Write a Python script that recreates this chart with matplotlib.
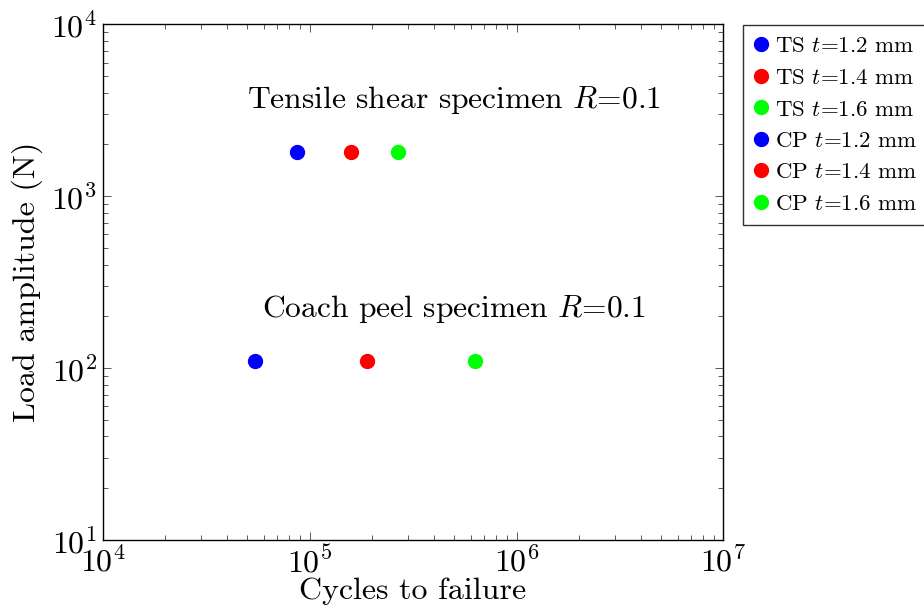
import matplotlib
matplotlib.use("Agg")
import matplotlib.pyplot as plt

plt.rcParams['font.family'] = ['cmr10', 'DejaVu Serif']
plt.rcParams['mathtext.fontset'] = 'cm'
plt.rcParams['axes.formatter.use_mathtext'] = True

# data
thickness = ['1.2', '1.4', '1.6']
colors = ['blue', 'red', 'lime']
ts_cycles = [8.7e4, 1.58e5, 2.67e5]
ts_load = [1800, 1800, 1800]
cp_cycles = [5.45e4, 1.89e5, 6.33e5]
cp_load = [110, 110, 110]


def main():
    fig = plt.figure(figsize=(9.24, 6.10), dpi=100)
    ax = fig.add_axes([0.111, 0.115, 0.672, 0.845])

    for c, ld, t, col in zip(ts_cycles, ts_load, thickness, colors):
        ax.plot([c], [ld], 'o', color=col, markersize=10,
                label=r'TS $t$=' + t + ' mm')
    for c, ld, t, col in zip(cp_cycles, cp_load, thickness, colors):
        ax.plot([c], [ld], 'o', color=col, markersize=10,
                label=r'CP $t$=' + t + ' mm')

    ax.set_xscale('log')
    ax.set_yscale('log')
    ax.set_xlim(1e4, 1e7)
    ax.set_ylim(1e1, 1e4)

    ax.text(5.0e5, 3650, r'Tensile shear specimen $R$=0.1', fontsize=22.7,
            ha='center', va='center')
    ax.text(5.0e5, 222, r'Coach peel specimen $R$=0.1', fontsize=22.7,
            ha='center', va='center')

    ax.set_xlabel('Cycles to failure', fontsize=23, labelpad=0)
    ax.set_ylabel('Load amplitude (N)', fontsize=23, labelpad=6)

    ax.tick_params(which='both', direction='in', top=True, right=True,
                   color='0.35', width=0.7, labelsize=23)
    ax.tick_params(which='major', length=6, pad=4)
    ax.tick_params(which='minor', length=3.5)
    for sp in ax.spines.values():
        sp.set_linewidth(1.0)

    leg = fig.legend(loc='upper left', bbox_to_anchor=(743 / 924, 1 - 25 / 610),
                     fontsize=16.5, frameon=True, fancybox=False,
                     edgecolor='black', handlelength=0.6, handletextpad=0.3,
                     labelspacing=0.5, borderpad=0.5, borderaxespad=0)
    leg.get_frame().set_linewidth(1.0)

    fig.savefig('out.png', dpi=100)


if __name__ == "__main__":
    main()
